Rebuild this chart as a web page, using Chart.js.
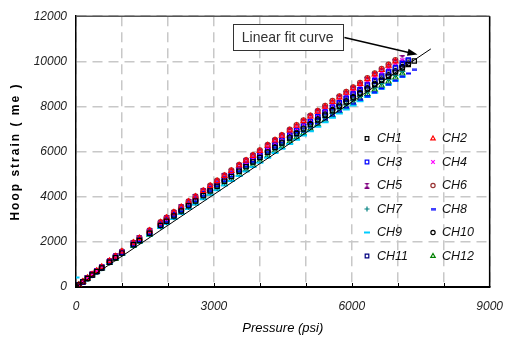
<!DOCTYPE html>
<html>
<head>
<meta charset="utf-8">
<script src="https://cdn.jsdelivr.net/npm/chart.js@4.4.1/dist/chart.umd.min.js"></script>
<style>
  html, body { margin: 0; padding: 0; background: #fff; }
  #wrap { width: 515px; height: 338px; }
</style>
</head>
<body>
<div id="wrap"><canvas id="hoopChart" width="515" height="338"></canvas></div>
<script>
// pressure steps (psi), shared by all channels
const pressure = [0, 60, 150, 250, 350, 450, 560, 730, 860, 1000, 1250, 1380, 1600, 1840, 1970, 2130, 2290, 2450, 2600, 2770,
  2920, 3070, 3230, 3380, 3550, 3700, 3850, 4000, 4170, 4330, 4480, 4650, 4800, 4950, 5100, 5260, 5420, 5580, 5730, 5880,
  6030, 6180, 6340, 6500, 6650, 6800, 6950, 7100, 7230, 7360];

// hoop strain per channel (me)
const ch1 = [0, 92, 228, 379, 530, 681, 846, 1100, 1294, 1501, 1869, 2060, 2380, 2727, 2914, 3143, 3371, 3598, 3810, 4049,
  4259, 4468, 4688, 4895, 5128, 5333, 5536, 5739, 5968, 6181, 6381, 6606, 6803, 6999, 7195, 7402, 7608, 7813, 8005, 8195,
  8384, 8572, 8772, 8971, 9156, 9340, 9523, 9705, 9862, 10019];
const ch2 = [0, 96, 239, 398, 557, 715, 888, 1155, 1359, 1576, 1963, 2163, 2500, 2864, 3061, 3301, 3541, 3779, 4001, 4252,
  4473, 4692, 4924, 5141, 5386, 5601, 5814, 6028, 6268, 6492, 6702, 6938, 7145, 7351, 7556, 7774, 7990, 8205, 8407, 8607,
  8805, 9003, 9213, 9422, 9616, 9809, 10002];
const ch3 = [0, 93, 232, 387, 541, 694, 863, 1122, 1320, 1531, 1906, 2101, 2428, 2782, 2973, 3206, 3439, 3670, 3886, 4130,
  4344, 4557, 4783, 4994, 5231, 5440, 5648, 5855, 6088, 6305, 6509, 6739, 6940, 7140, 7340, 7551, 7761, 7970, 8166, 8360,
  8552, 8744, 8948, 9151, 9340, 9528, 9715, 9900, 10061];
const ch4 = [0, 95, 236, 392, 549, 705, 876, 1138, 1339, 1553, 1934, 2132, 2464, 2823, 3017, 3254, 3490, 3725, 3944, 4191,
  4408, 4625, 4853, 5068, 5309, 5521, 5731, 5941, 6178, 6398, 6605, 6838, 7042, 7245, 7448, 7662, 7875, 8088, 8286, 8483,
  8679, 8874, 9081, 9287, 9478, 9669, 9858, 10047];
const ch5 = [0, 96, 238, 396, 554, 711, 884, 1149, 1352, 1568, 1953, 2153, 2488, 2851, 3046, 3285, 3524, 3761, 3982, 4232,
  4451, 4670, 4901, 5117, 5360, 5574, 5787, 5999, 6238, 6461, 6670, 6905, 7111, 7315, 7520, 7737, 7952, 8166, 8367, 8565,
  8763, 8960, 9169, 9377, 9570, 9763, 9954, 10144];
const ch6 = [0, 97, 241, 400, 560, 718, 893, 1160, 1365, 1583, 1972, 2174, 2512, 2878, 3076, 3317, 3557, 3797, 4021, 4273,
  4494, 4715, 4948, 5166, 5412, 5628, 5842, 6056, 6298, 6523, 6734, 6971, 7179, 7386, 7593, 7811, 8028, 8245, 8447, 8648,
  8847, 9046, 9257, 9467, 9662, 9856, 10050];
const ch7 = [0, 90, 224, 373, 522, 670, 833, 1083, 1274, 1478, 1840, 2029, 2344, 2686, 2870, 3096, 3320, 3544, 3752, 3988,
  4194, 4400, 4618, 4822, 5051, 5253, 5453, 5653, 5878, 6088, 6285, 6506, 6700, 6893, 7086, 7290, 7493, 7695, 7884, 8071,
  8258, 8443, 8640, 8836, 9018, 9199, 9380, 9559];
const ch8 = [0, 91, 227, 377, 528, 677, 842, 1094, 1287, 1493, 1859, 2049, 2368, 2714, 2900, 3127, 3354, 3580, 3791, 4028,
  4237, 4445, 4665, 4871, 5103, 5306, 5508, 5710, 5926, 6125, 6310, 6520, 6700, 6879, 7058, 7246, 7432, 7616, 7788, 7956,
  8123, 8288, 8463, 8637, 8797, 8965, 9140, 9315, 9466, 9616];
const ch9 = [420, 88, 219, 364, 509, 653, 812, 1055, 1242, 1440, 1794, 1977, 2284, 2618, 2797, 3017, 3236, 3453, 3657, 3886,
  4087, 4288, 4500, 4699, 4922, 5119, 5314, 5508, 5728, 5933, 6124, 6340, 6529, 6718, 6906, 7104, 7302, 7499, 7683, 7865,
  8047, 8227, 8419, 8610, 8788, 8965, 9140, 9315];
const ch10 = [0, 92, 229, 381, 533, 684, 850, 1105, 1300, 1508, 1878, 2070, 2392, 2741, 2929, 3159, 3388, 3616, 3829, 4069,
  4280, 4490, 4712, 4920, 5154, 5360, 5564, 5768, 5998, 6212, 6413, 6639, 6837, 7034, 7231, 7439, 7646, 7852, 8045, 8236,
  8426, 8615, 8816, 9016, 9202, 9387, 9571, 9754, 9912];
const ch11 = [0, 93, 231, 385, 538, 691, 859, 1116, 1313, 1523, 1897, 2091, 2416, 2768, 2958, 3191, 3422, 3652, 3867, 4110,
  4323, 4535, 4759, 4969, 5206, 5414, 5620, 5826, 6058, 6274, 6477, 6705, 6905, 7104, 7303, 7513, 7722, 7931, 8126, 8318,
  8510, 8701, 8904, 9106, 9294, 9481, 9667, 9852, 10011];
const ch12 = [0, 89, 222, 370, 517, 664, 825, 1072, 1261, 1463, 1822, 2008, 2320, 2659, 2841, 3064, 3286, 3508, 3714, 3947,
  4152, 4355, 4571, 4772, 4999, 5199, 5397, 5595, 5818, 6026, 6221, 6440, 6632, 6823, 7014, 7216, 7417, 7616, 7804, 7989,
  8173, 8357, 8552, 8746, 8926, 9105, 9284, 9461];

// linear fit end points
const fitPressure = [0, 7720];
const fitStrain = [0, 10550];

const xLabelEvery = 3000;   // only these gridlines get a label
const noteText = 'Linear fit curve';

const FONT = '"Liberation Sans", Arial, sans-serif';

// small custom marker shapes
function hourglass(color) {
    const c = document.createElement('canvas');
    c.width = 6; c.height = 6;
    const g = c.getContext('2d');
    g.fillStyle = color;
    g.beginPath();
    g.moveTo(0, 0); g.lineTo(6, 0); g.lineTo(0, 6); g.lineTo(6, 6);
    g.closePath();
    g.fill();
    return c;
}
function dash(color) {
    const c = document.createElement('canvas');
    c.width = 5; c.height = 3;
    const g = c.getContext('2d');
    g.fillStyle = color;
    g.fillRect(0, 0.5, 5, 2);
    return c;
}

function series(label, ys, style, color, radius, filled, width) {
    return {
        label: label,
        data: ys.map((s, i) => ({ x: pressure[i], y: s })),
        pointStyle: style,
        pointRadius: radius,
        pointBorderColor: color,
        pointBackgroundColor: filled ? color : 'rgba(255,255,255,0)',
        pointBorderWidth: width || 1.2,
        showLine: false
    };
}

const channels = [
    series('CH1', ch1, 'rect', '#000000', 3),
    series('CH2', ch2, 'triangle', '#ff0000', 3),
    series('CH3', ch3, 'rect', '#0000ff', 3),
    series('CH4', ch4, 'crossRot', '#ff00ff', 3),
    series('CH5', ch5, hourglass('#800080'), '#800080', 3, true),
    series('CH6', ch6, 'circle', '#993333', 2.5),
    series('CH7', ch7, 'cross', '#008080', 3),
    series('CH8', ch8, dash('#0000ff'), '#0000ff', 2, true),
    series('CH9', ch9, 'line', '#00ccff', 3.5, false, 2),
    series('CH10', ch10, 'circle', '#000000', 2.5),
    series('CH11', ch11, 'rect', '#000080', 3),
    series('CH12', ch12, 'triangle', '#008000', 3)
];

const fitLine = {
    type: 'line',
    label: 'fit',
    data: fitPressure.map((p, i) => ({ x: p, y: fitStrain[i] })),
    borderColor: '#000',
    borderWidth: 1,
    pointRadius: 0,
    fill: false
};

// annotation anchor values, in data units
const noteBox = { left: 3410, right: 5800, top: 11640, bottom: 10490 };
const noteArrow = { fromX: 5840, fromY: 11060, toX: 7430, toY: 10300 };

const decor = {
    id: 'decor',
    afterDraw(chart) {
        const { ctx, chartArea: a, scales: { x, y } } = chart;
        ctx.save();

        // frame top and right
        ctx.setLineDash([]);
        ctx.strokeStyle = '#555';
        ctx.lineWidth = 1.5;
        ctx.beginPath(); ctx.moveTo(a.left, a.top); ctx.lineTo(a.right, a.top); ctx.stroke();
        ctx.strokeStyle = '#000';
        ctx.lineWidth = 1.5;
        ctx.beginPath(); ctx.moveTo(a.right, a.top); ctx.lineTo(a.right, a.bottom); ctx.stroke();

        // inward tick marks on the x axis
        ctx.lineWidth = 1;
        for (let v = 1000; v < 9000; v += 1000) {
            const px = Math.round(x.getPixelForValue(v)) + 0.5;
            ctx.beginPath(); ctx.moveTo(px, a.bottom); ctx.lineTo(px, a.bottom - 4); ctx.stroke();
        }

        // axis titles
        ctx.fillStyle = '#000';
        ctx.textAlign = 'center';
        ctx.textBaseline = 'middle';
        ctx.font = 'italic 13px ' + FONT;
        ctx.fillText('Pressure (psi)', (a.left + a.right) / 2, 328);

        ctx.save();
        ctx.translate(16, (a.top + a.bottom) / 2);
        ctx.rotate(-Math.PI / 2);
        ctx.font = 'bold 12px ' + FONT;
        ctx.letterSpacing = '2px';
        ctx.fillText('Hoop strain ( me )', 0, 0);
        ctx.restore();

        // note box + arrow
        const bl = x.getPixelForValue(noteBox.left), br = x.getPixelForValue(noteBox.right);
        const bt = y.getPixelForValue(noteBox.top), bb = y.getPixelForValue(noteBox.bottom);
        ctx.fillStyle = '#fff';
        ctx.fillRect(bl, bt, br - bl, bb - bt);
        ctx.strokeStyle = '#333';
        ctx.lineWidth = 1;
        ctx.strokeRect(Math.round(bl) + 0.5, Math.round(bt) + 0.5, Math.round(br - bl), Math.round(bb - bt));
        ctx.fillStyle = '#333';
        ctx.font = '14px ' + FONT;
        ctx.fillText(noteText, (bl + br) / 2, (bt + bb) / 2 + 1);

        const fx = x.getPixelForValue(noteArrow.fromX), fy = y.getPixelForValue(noteArrow.fromY);
        const tx = x.getPixelForValue(noteArrow.toX), ty = y.getPixelForValue(noteArrow.toY);
        const ang = Math.atan2(ty - fy, tx - fx);
        ctx.strokeStyle = '#000';
        ctx.lineWidth = 1.5;
        ctx.beginPath(); ctx.moveTo(fx, fy); ctx.lineTo(tx - 8 * Math.cos(ang), ty - 8 * Math.sin(ang)); ctx.stroke();
        ctx.fillStyle = '#000';
        ctx.beginPath();
        ctx.moveTo(tx, ty);
        ctx.lineTo(tx - 10 * Math.cos(ang) + 3.5 * Math.sin(ang), ty - 10 * Math.sin(ang) - 3.5 * Math.cos(ang));
        ctx.lineTo(tx - 10 * Math.cos(ang) - 3.5 * Math.sin(ang), ty - 10 * Math.sin(ang) + 3.5 * Math.cos(ang));
        ctx.closePath();
        ctx.fill();

        // legend, two columns
        const drawPoint = Chart.helpers && Chart.helpers.drawPoint;
        const markX = [a.left + 291, a.left + 357];
        const textX = [a.left + 301, a.left + 366];
        ctx.font = 'italic 12.5px ' + FONT;
        ctx.textAlign = 'left';
        chart.data.datasets.forEach(ds => {
            const i = channels.indexOf(ds);
            if (i < 0) return;
            const col = i % 2, row = Math.floor(i / 2);
            const yy = 138.5 + row * 23.5;
            ctx.strokeStyle = ds.pointBorderColor;
            ctx.fillStyle = ds.pointBackgroundColor;
            ctx.lineWidth = ds.pointBorderWidth;
            if (drawPoint) {
                drawPoint(ctx, { pointStyle: ds.pointStyle, radius: ds.pointRadius * 0.85, borderWidth: ds.pointBorderWidth, rotation: 0 }, markX[col], yy);
            }
            ctx.fillStyle = '#111';
            ctx.fillText(ds.label, textX[col], yy + 0.5);
        });

        ctx.restore();
    }
};

const gridStyle = { color: '#c8c8c8', lineWidth: 1.5, drawTicks: false };

new Chart(document.getElementById('hoopChart'), {
    type: 'scatter',
    data: { datasets: [fitLine].concat(channels) },
    options: {
        responsive: false,
        animation: false,
        layout: { padding: { top: 15, right: 14, left: 0, bottom: 0 } },
        plugins: { legend: { display: false }, tooltip: { enabled: false } },
        scales: {
            x: {
                type: 'linear',
                min: 0, max: 9000,
                grid: gridStyle,
                border: { color: '#000', width: 2, dash: [10, 6] },
                ticks: {
                    stepSize: 1000,
                    autoSkip: false,
                    maxRotation: 0,
                    padding: 12,
                    color: '#222',
                    font: { family: FONT, size: 12, style: 'italic' },
                    callback: v => (v % xLabelEvery === 0 ? String(v) : '')
                },
                afterFit: s => { s.height = 51; }
            },
            y: {
                min: 0, max: 12000,
                grid: gridStyle,
                border: { color: '#000', width: 1.5, dash: [10, 6] },
                ticks: {
                    stepSize: 2000,
                    padding: 9,
                    color: '#222',
                    font: { family: FONT, size: 12, style: 'italic' },
                    callback: v => String(v)
                },
                afterFit: s => { s.width = 76; }
            }
        }
    },
    plugins: [decor]
});
</script>
</body>
</html>
